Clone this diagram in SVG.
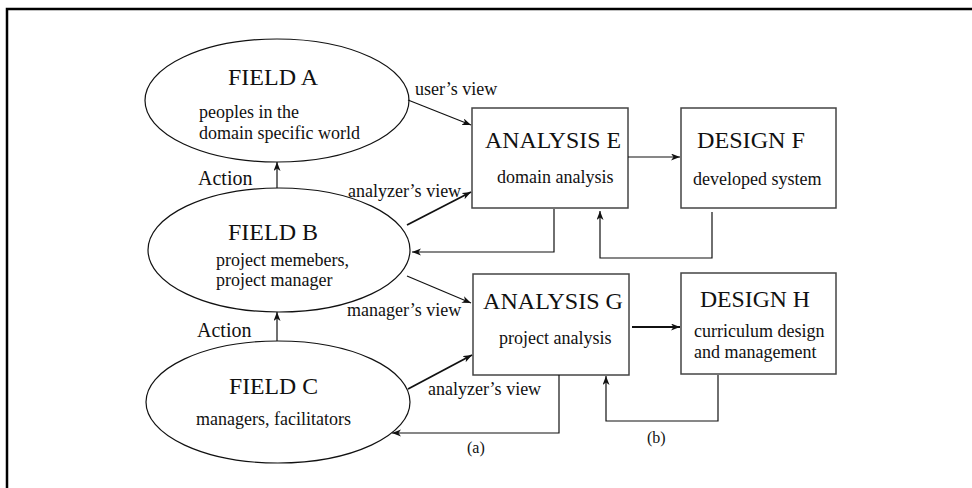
<svg xmlns="http://www.w3.org/2000/svg" width="972" height="488" viewBox="0 0 972 488">
  <defs>
    <style>
      text { font-family: "Liberation Serif", "Times New Roman", serif; fill: #111; }
      .title { font-size: 23px; }
      .sub { font-size: 18px; }
      .field { fill: #fff; stroke: #111; stroke-width: 1.2; }
      .box { fill: #fff; stroke: #444; stroke-width: 1.5; }
      .conn { fill: none; stroke: #111; stroke-width: 1.2; }
      .thick { stroke-width: 1.8; }
      .frame { fill: none; stroke: #000; stroke-width: 2.5; }
    </style>
    <marker id="arrow" markerUnits="userSpaceOnUse" markerWidth="10" markerHeight="8" refX="9" refY="3.5" orient="auto">
      <path d="M0,0 L9,3.5 L0,7 L2.5,3.5 z" fill="#111"/>
    </marker>
  </defs>

  <rect width="972" height="488" fill="#fff"/>
  <!-- outer frame, open to the right and bottom edges -->
  <polyline class="frame" points="7,488 7,9 972,9"/>

  <!-- fields -->
  <g id="fieldA">
    <ellipse class="field" cx="277" cy="100.5" rx="132" ry="61.5"/>
    <text class="title" x="228" y="85" textLength="90" lengthAdjust="spacingAndGlyphs">FIELD A</text>
    <text class="sub" x="199" y="118">peoples in the</text>
    <text class="sub" x="199" y="139">domain specific world</text>
  </g>
  <g id="fieldB">
    <ellipse class="field" cx="279" cy="250" rx="131" ry="62"/>
    <text class="title" x="228" y="240" textLength="90" lengthAdjust="spacingAndGlyphs">FIELD B</text>
    <text class="sub" x="216" y="266">project memebers,</text>
    <text class="sub" x="216" y="286">project manager</text>
  </g>
  <g id="fieldC">
    <ellipse class="field" cx="278" cy="402" rx="132" ry="61"/>
    <text class="title" x="229" y="394" textLength="89" lengthAdjust="spacingAndGlyphs">FIELD C</text>
    <text class="sub" x="196" y="425">managers, facilitators</text>
  </g>

  <!-- analysis and design boxes -->
  <g id="analysisE">
    <rect class="box" x="472" y="108" width="156" height="100"/>
    <text class="title" x="485" y="148" textLength="136" lengthAdjust="spacingAndGlyphs">ANALYSIS E</text>
    <text class="sub" x="497" y="183">domain analysis</text>
  </g>
  <g id="designF">
    <rect class="box" x="681" y="108" width="155" height="100"/>
    <text class="title" x="697" y="148" textLength="108" lengthAdjust="spacingAndGlyphs">DESIGN F</text>
    <text class="sub" x="693" y="185">developed system</text>
  </g>
  <g id="analysisG">
    <rect class="box" x="473" y="274" width="156" height="101"/>
    <text class="title" x="483" y="309" textLength="140" lengthAdjust="spacingAndGlyphs">ANALYSIS G</text>
    <text class="sub" x="499" y="344">project analysis</text>
  </g>
  <g id="designH">
    <rect class="box" x="681" y="273" width="155" height="101"/>
    <text class="title" x="700" y="307" textLength="110" lengthAdjust="spacingAndGlyphs">DESIGN H</text>
    <text class="sub" x="694" y="337">curriculum design</text>
    <text class="sub" x="694" y="358">and management</text>
  </g>

  <!-- connectors -->
  <g id="connectors">
    <line class="conn" x1="277" y1="188" x2="277" y2="162" marker-end="url(#arrow)"/>
    <line class="conn" x1="277" y1="341" x2="277" y2="312" marker-end="url(#arrow)"/>
    <line class="conn" x1="408" y1="100" x2="471" y2="125" marker-end="url(#arrow)"/>
    <line class="conn thick" x1="407" y1="225" x2="471" y2="192" marker-end="url(#arrow)"/>
    <line class="conn" x1="407" y1="276" x2="471" y2="303" marker-end="url(#arrow)"/>
    <line class="conn thick" x1="408" y1="389" x2="472" y2="355" marker-end="url(#arrow)"/>
    <line class="conn" x1="628" y1="157" x2="680" y2="157" marker-end="url(#arrow)"/>
    <line class="conn thick" x1="632" y1="327" x2="680" y2="327" marker-end="url(#arrow)"/>
    <polyline class="conn" points="712,212 712,258 600,258 600,211" marker-end="url(#arrow)"/>
    <polyline class="conn" points="554,209 554,252 412,252" marker-end="url(#arrow)"/>
    <polyline class="conn" points="718,375 718,421 606,421 606,376" marker-end="url(#arrow)"/>
    <polyline class="conn" points="559,375 559,433 392,433" marker-end="url(#arrow)"/>

    <text class="sub" x="415" y="95">user’s view</text>
    <text class="sub" x="348" y="197">analyzer’s view</text>
    <text class="sub" x="347" y="316">manager’s view</text>
    <text class="sub" x="428" y="395">analyzer’s view</text>
    <text class="title" x="198" y="185" style="font-size:20px">Action</text>
    <text class="title" x="197" y="337" style="font-size:20px">Action</text>
    <text class="sub" x="467" y="453" style="font-size:16px">(a)</text>
    <text class="sub" x="647" y="443" style="font-size:16px">(b)</text>
  </g>
</svg>
